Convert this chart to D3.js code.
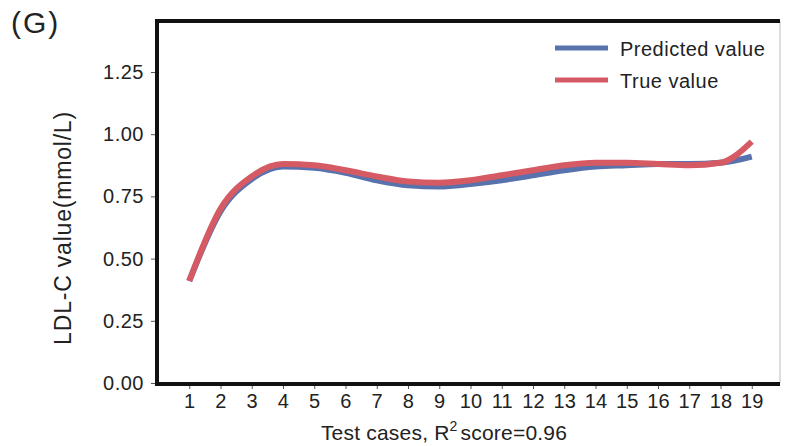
<!DOCTYPE html>
<html>
<head>
<meta charset="utf-8">
<script src="https://cdn.jsdelivr.net/npm/d3@7"></script>
<style>
body { margin: 0; background: #fff; }
text { font-family: "Liberation Sans", Arial, sans-serif; fill: #222; }
</style>
</head>
<body>
<div id="chart"></div>
<script>
var cases = d3.range(1, 20); // test cases 1..19
var predicted = [0.41, 0.69, 0.82, 0.87, 0.865, 0.845, 0.815, 0.795, 0.79, 0.80, 0.815, 0.835, 0.855, 0.87, 0.875, 0.88, 0.88, 0.885, 0.91];
var trueVals = [0.41, 0.70, 0.83, 0.88, 0.875, 0.855, 0.83, 0.81, 0.805, 0.815, 0.835, 0.855, 0.875, 0.885, 0.885, 0.88, 0.875, 0.885, 0.97];
var yTicks = [0, 0.25, 0.5, 0.75, 1.0, 1.25];

var svg = d3.select('#chart').append('svg')
	.attr('width', 785)
	.attr('height', 446);

var mLeft = 158, mRight = 783, mTop = 21, mBottom = 383;

var x = d3.scaleLinear().domain([0, 20]).range([mLeft, mRight]);
var y = d3.scaleLinear().domain([0, 1.455]).range([mBottom, mTop]);

// panel letter
svg.append('text').attr('x', 11).attr('y', 33)
	.style('font-size', '30px').style('letter-spacing', '2px').text('(G)');

// y axis
var yAxis = svg.append('g').attr('transform', 'translate(' + (mLeft - 1) + ',0)')
	.call(d3.axisLeft(y).tickValues(yTicks).tickFormat(d3.format('.2f')).tickSize(6).tickPadding(7));
yAxis.select('.domain').remove();
yAxis.selectAll('line').attr('stroke', '#555');
yAxis.selectAll('text').style('font-size', '20px').style('letter-spacing', '0.5px').attr('fill', '#222');

// x axis
var xAxis = svg.append('g').attr('transform', 'translate(0,' + (mBottom + 1) + ')')
	.call(d3.axisBottom(x).tickValues(cases).tickSize(5).tickPadding(5));
xAxis.select('.domain').remove();
xAxis.selectAll('line').attr('stroke', '#555');
xAxis.selectAll('text').style('font-size', '20px').style('letter-spacing', '0.2px').attr('fill', '#222');

// frame: thick left/top/bottom, thin grey right
svg.append('line').attr('x1', 780).attr('x2', 780).attr('y1', mTop).attr('y2', mBottom)
	.attr('stroke', '#bbb').attr('stroke-width', 1);
svg.append('path')
	.attr('d', 'M780,' + mTop + 'H' + (mLeft - 1) + 'V' + (mBottom + 1) + 'H780')
	.attr('fill', 'none').attr('stroke', '#111').attr('stroke-width', 4);

// series lines
var line = function (vals) {
	return d3.line()
		.x(function (d, i) { return x(cases[i]); })
		.y(function (d) { return y(d); })
		.curve(d3.curveMonotoneX)(vals);
};
svg.append('path').attr('d', line(predicted))
	.attr('fill', 'none').attr('stroke', '#5872ad').attr('stroke-width', 6);
svg.append('path').attr('d', line(trueVals))
	.attr('fill', 'none').attr('stroke', '#d65a63').attr('stroke-width', 6);

// legend
var legend = [{ name: 'Predicted value', c: '#5872ad' }, { name: 'True value', c: '#d65a63' }];
var lg = svg.selectAll('.lg').data(legend).enter().append('g')
	.attr('transform', function (d, i) { return 'translate(555,' + (48 + i * 32) + ')'; });
lg.append('line').attr('x1', 0).attr('x2', 53).attr('stroke', function (d) { return d.c; }).attr('stroke-width', 5);
lg.append('text').attr('x', 65).attr('y', 8).style('font-size', '20px').style('letter-spacing', '0.5px')
	.text(function (d) { return d.name; });

// axis titles
svg.append('text')
	.attr('transform', 'translate(71,228) rotate(-90)')
	.attr('text-anchor', 'middle').style('font-size', '23px').style('letter-spacing', '0.8px')
	.text('LDL-C value(mmol/L)');

var xt = svg.append('text').attr('x', 444).attr('y', 440)
	.attr('text-anchor', 'middle').style('font-size', '21px').style('letter-spacing', '0.2px');
xt.append('tspan').text('Test cases, R');
xt.append('tspan').attr('dy', -9).style('font-size', '14px').text('2');
xt.append('tspan').attr('dy', 9).attr('dx', 3).text('score=0.96');
</script>
</body>
</html>
